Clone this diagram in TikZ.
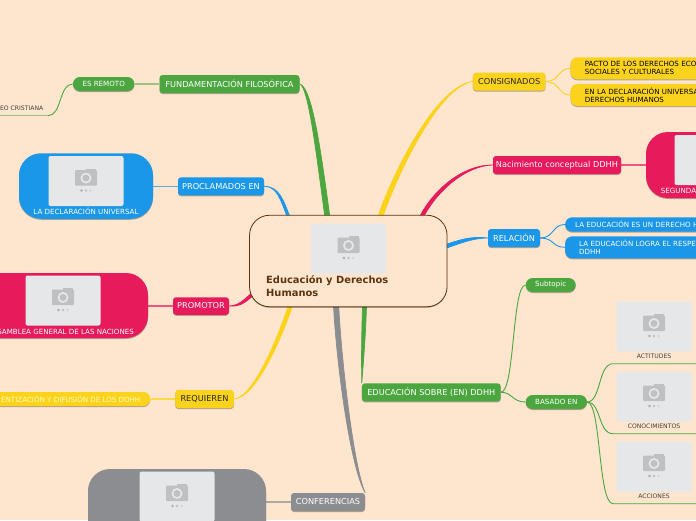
\documentclass[tikz,border=0pt]{standalone}
\usepackage{fontspec}
\setmainfont{DejaVu Sans}
\usetikzlibrary{calc,shadows,backgrounds}
\definecolor{bgc}{HTML}{FEE6CE}
\definecolor{gn}{HTML}{4CA63F}
\definecolor{bl}{HTML}{1A97E8}
\definecolor{pk}{HTML}{E71A5C}
\definecolor{yl}{HTML}{FBD31C}
\definecolor{gy}{HTML}{8C8D90}
\definecolor{br}{HTML}{5B3510}
\definecolor{ph}{HTML}{E6E7E9}
\definecolor{cam}{HTML}{BFC0C2}
\newcommand\fsA{\fontsize{8.2}{9}\selectfont}
\newcommand\fsB{\fontsize{6.1}{8}\selectfont}
\newcommand\fsC{\fontsize{7.1}{8}\selectfont}
\newcommand\taper[6]{\filldraw[#1,line width=.7pt,line join=round] (#2) .. controls ($(#2)+(#3)+0.7*(#6)$) and ($(#4)+(#5)+(#6)$) .. ($(#4)+(#6)$) -- ($(#4)-(#6)$) .. controls ($(#4)+(#5)-(#6)$) and ($(#2)+(#3)-0.7*(#6)$) .. (#2) -- cycle;}
\tikzset{
  x=1pt,y=-1pt,
  sh/.style={drop shadow={shadow xshift=0pt,shadow yshift=-1pt,opacity=.3,fill=black}},
  boxn/.style={sh,rounded corners=3pt,inner sep=0pt,font=\fsA,text=white,align=center},
  pill/.style={sh,rounded corners=7pt,inner sep=0pt,font=\fsC,text=white,align=center},
  lpill/.style={sh,rounded corners=7pt,inner sep=0pt,font=\fsC,anchor=west,align=left,minimum height=22pt,text width=200pt},
  big/.style={sh,rounded corners=22pt,inner sep=0pt},
  photobox/.style={fill=ph,rounded corners=2pt,minimum width=75pt,minimum height=50pt,inner sep=0pt},
  captxt/.style={inner sep=0pt,font=\fsC,text=white},
  plain/.style={inner sep=0pt,font=\fsB,text=black!75},
  thin gn/.style={gn,line width=.9pt},
  camera/.pic={
    \fill[cam,rounded corners=1pt] (-11,-11) rectangle (11,4.5);
    \fill[cam] (0,-12.5) rectangle (10,-10);
    \fill[ph] (0,-3) circle[radius=5.5pt];
    \fill[cam] (0,-3) circle[radius=3.5pt];
    \fill[cam!90!black] (-4.5,9.5) circle[radius=1.3pt];
    \fill[cam] (0,9.5) circle[radius=1.3pt];
    \fill[ph!92!black] (4.5,9.5) circle[radius=1.3pt];
  }
}
\begin{document}
\begin{tikzpicture}
\useasboundingbox (0,0) rectangle (696,520);
\clip (0,0) rectangle (696,520);
\begin{pgfonlayer}{background}
\fill[bgc] (0,0) rectangle (696,520);
\end{pgfonlayer}

% centre
\node[sh,draw=br,line width=.8pt,fill=bgc,rounded corners=20pt,minimum width=197.5pt,minimum height=91.5pt,inner sep=0pt] (root) at (348.3,261) {};
\node[photobox] (rootph) at (348.5,248.5) {};
\pic at (rootph) {camera};
\node[inner sep=0pt,anchor=north west,align=left,text=br,font=\fontsize{9.9}{12.3}\selectfont\bfseries] (roott) at (266,275.8) {Educación y Derechos\\Humanos};

% first level
\node[boxn,fill=gn,minimum width=140pt,minimum height=18pt] (fund) at (229.5,84) {FUNDAMENTACIÓN FILOSÓFICA};
\node[pill,fill=gn,minimum width=61.5pt,minimum height=14pt] (rem) at (103.7,84) {ES REMOTO};
\node[plain,anchor=east] (crist) at (43.5,108.7) {EO CRISTIANA};
\node[boxn,fill=bl,minimum width=86pt,minimum height=18pt] (proc) at (221,186.3) {PROCLAMADOS EN};
\node[big,fill=bl,minimum width=134pt,minimum height=65.5pt] (decl) at (86,186) {};
\node[photobox] (declph) at (86,181) {};
\pic at (declph) {camera};
\node[captxt] (declc) at (86,211.3) {LA DECLARACIÓN UNIVERSAL};
\node[boxn,fill=pk,minimum width=56pt,minimum height=17.5pt] (prom) at (201,306) {PROMOTOR};
\node[big,fill=pk,minimum width=170pt,minimum height=65pt] (asam) at (63,305.5) {};
\node[photobox] (asamph) at (63,300.5) {};
\pic at (asamph) {camera};
\node[captxt,anchor=east] (asamc) at (134,331.5) {SAMBLEA GENERAL DE LAS NACIONES};
\node[boxn,fill=yl,text=black!85,minimum width=58.5pt,minimum height=18pt] (req) at (204.5,399) {REQUIEREN};
\node[pill,fill=yl,anchor=east,minimum width=200pt,minimum height=14pt] (conc) at (150.5,399) {};
\node[captxt,anchor=east,text=yellow!25] (concc) at (140.5,399) {ENTIZACIÓN Y DIFUSIÓN DE LOS DDHH};
\node[boxn,fill=gy,minimum width=74pt,minimum height=18pt] (conf) at (328,502) {CONFERENCIAS};
\node[big,fill=gy,minimum width=178pt,minimum height=100pt] (confb) at (177,519) {};
\node[photobox] (confph) at (177,496.5) {};
\pic at (confph) {camera};

\node[boxn,fill=yl,text=black!85,minimum width=72.5pt,minimum height=18pt] (cons) at (509.2,81.5) {CONSIGNADOS};
\node[lpill,fill=yl,inner xsep=14.4pt] (pacto) at (570.3,68.3) {\baselineskip=8pt PACTO DE LOS DERECHOS ECO\\SOCIALES Y CULTURALES};
\node[lpill,fill=yl,inner xsep=14.4pt] (decu) at (570.3,95) {\baselineskip=8pt EN LA DECLARACIÓN UNIVERSA\\DERECHOS HUMANOS};
\node[boxn,fill=pk,minimum width=128pt,minimum height=18pt] (nac) at (557,165) {Nacimiento conceptual DDHH};
\node[big,fill=pk,minimum width=132pt,minimum height=66pt] (seg) at (712,165) {};
\node[photobox] (segph) at (712,160) {};
\pic at (segph) {camera};
\node[captxt,anchor=west] (segc) at (660.7,191) {SEGUNDA};
\node[boxn,fill=bl,minimum width=52pt,minimum height=18pt] (rel) at (514,238) {RELACIÓN};
\node[pill,fill=bl,anchor=west,minimum width=200pt,minimum height=14.4pt] (edu1) at (565,224.5) {};
\node[captxt,anchor=west] (edu1c) at (575,224.5) {LA EDUCACIÓN ES UN DERECHO H};
\node[lpill,fill=bl,text=white,inner xsep=14pt] (edu2) at (565,247.3) {\baselineskip=8pt LA EDUCACIÓN LOGRA EL RESPE\\DDHH};

\node[boxn,fill=gn,minimum width=138.7pt,minimum height=18pt] (edu) at (431.3,392.3) {EDUCACIÓN SOBRE (EN) DDHH};
\node[pill,fill=gn,minimum width=50pt,minimum height=14pt] (sub) at (550.7,285) {Subtopic};
\node[pill,fill=gn,minimum width=61.3pt,minimum height=14pt] (bas) at (556.3,402) {BASADO EN};
\node[photobox] (p1) at (654,326.5) {};
\pic at (p1) {camera};
\node[plain] (act) at (654,356.7) {ACTITUDES};
\node[photobox] (p2) at (654,396.5) {};
\pic at (p2) {camera};
\node[plain] (cono) at (654,426.7) {CONOCIMIENTOS};
\node[photobox] (p3) at (654,466.5) {};
\pic at (p3) {camera};
\node[plain] (acc) at (654,496.7) {ACCIONES};

\coordinate (u0) at (48,115.7);
\coordinate (u0e) at (0,115.7);
\coordinate (u1) at (613,363.7);
\coordinate (u1e) at (696,363.7);
\coordinate (u2) at (613,433.7);
\coordinate (u2e) at (696,433.7);
\coordinate (u3) at (613,503.7);
\coordinate (u3e) at (696,503.7);
\coordinate (rfund) at (327.5,218);
\coordinate (rproc) at (289,218);
\coordinate (rcons) at (380,218);
\coordinate (rnac) at (421,218);
\coordinate (rrel) at (444,247);
\coordinate (rprom) at (253,294);
\coordinate (rreq) at (291,304);
\coordinate (rconf) at (336,304);
\coordinate (redu) at (364.6,304);

\begin{pgfonlayer}{background}
\taper{gn}{fund.east}{10,3}{rfund}{-10,-75}{2.5,0}
\taper{bl}{proc.east}{14,0}{rproc}{-7,-18}{1.4,0}
\taper{yl}{cons.west}{-38,5}{rcons}{10,-32}{2.3,0.6}
\taper{pk}{nac.west}{-28,0}{rnac}{14,-28}{1.5,0.9}
\taper{bl}{rel.west}{-17,-1}{rrel}{15,-5}{0.4,1.8}
\taper{pk}{prom.east}{12,0}{rprom}{-8,6}{0.9,1.2}
\taper{yl}{req.east}{22,-1}{rreq}{-8,25}{2,0.3}
\taper{gy}{conf.north east}{-13,-25}{rconf}{3,60}{2.6,0}
\taper{gn}{edu.north west}{1,-30}{redu}{-1,30}{2,0}
\draw[gn!55!bgc,line width=1.3pt] (rem.east) -- (fund.west);
\draw[thin gn] (rem.west) .. controls +(-14,0) and (62,115.7) .. (u0);
\draw[gn!55!bgc,line width=1.1pt] (u0) -- (u0e);
\draw[bl!75!bgc,line width=1.1pt] (decl.east |- proc.west) -- (proc.west);
\draw[pk!70!bgc,line width=1.1pt] (asam.east |- prom.west) -- (prom.west);
\draw[yl!75!bgc,line width=1.1pt] (conc.east) -- (req.west);
\draw[gy!70!bgc,line width=1.1pt] (confb.east |- conf.west) -- (conf.west);
\draw[pk!70!bgc,line width=1.1pt] (nac.east) -- (seg.west);
\draw[yl,line width=.9pt] (cons.east) .. controls +(14,0) and (558,68.3) .. (pacto.west);
\draw[yl,line width=.9pt] (cons.east) .. controls +(14,0) and (558,95) .. (decu.west);
\draw[bl,line width=.9pt] (rel.east) .. controls +(14,0) and (552,224.5) .. (edu1.west);
\draw[bl,line width=.9pt] (rel.east) .. controls +(14,0) and (552,247.3) .. (edu2.west);
\draw[thin gn] (edu.east) .. controls +(14,0) and (512,285) .. (sub.west);
\draw[thin gn] (edu.east) .. controls +(12,0) and (512,402) .. (bas.west);
\draw[thin gn] (bas.east) .. controls +(14,0) and (598,363.7) .. (u1) -- (u1e);
\draw[thin gn] (bas.east) .. controls +(14,0) and (598,433.7) .. (u2) -- (u2e);
\draw[thin gn] (bas.east) .. controls +(14,0) and (598,503.7) .. (u3) -- (u3e);
\end{pgfonlayer}
\end{tikzpicture}
\end{document}
